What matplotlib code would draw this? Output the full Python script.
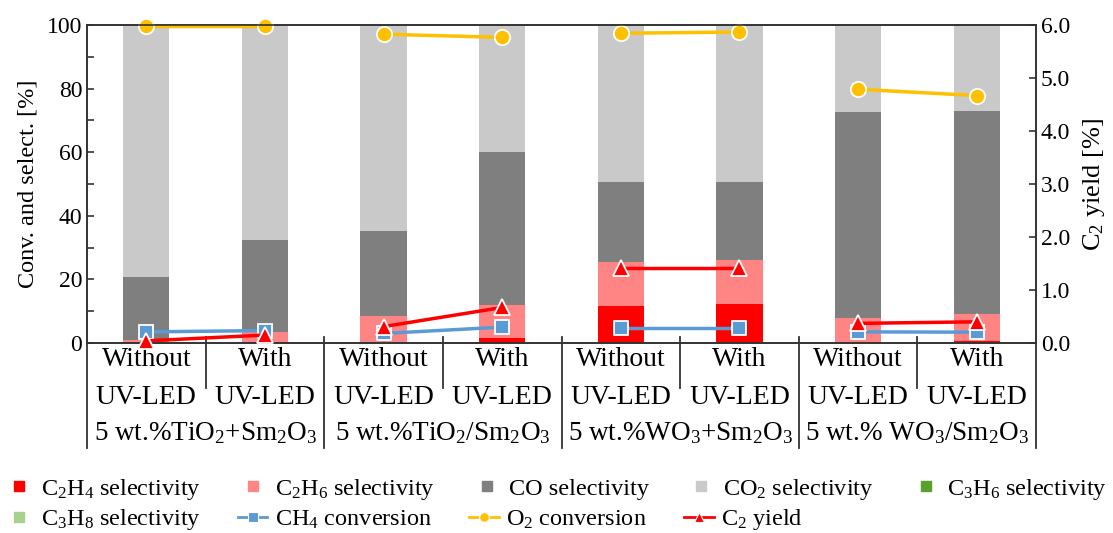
import matplotlib
matplotlib.use("Agg")
import matplotlib.pyplot as plt
from matplotlib.lines import Line2D
from matplotlib.ticker import FormatStrFormatter
import numpy as np

plt.rcParams['font.family'] = 'Liberation Serif'
plt.rcParams['mathtext.fontset'] = 'custom'
plt.rcParams['mathtext.rm'] = 'Liberation Serif'
plt.rcParams['mathtext.it'] = 'Liberation Serif:italic'
plt.rcParams['mathtext.bf'] = 'Liberation Serif:bold'

# --- data ---
led_state = ["Without", "With"] * 4
catalysts = [r"5 wt.%TiO$_2$+Sm$_2$O$_3$", r"5 wt.%TiO$_2$/Sm$_2$O$_3$",
             r"5 wt.%WO$_3$+Sm$_2$O$_3$", r"5 wt.% WO$_3$/Sm$_2$O$_3$"]

c2h4_sel = [0.0, 0.0, 0.0, 1.7, 11.6, 12.3, 0.0, 0.7]
c2h6_sel = [1.0, 3.5, 8.6, 10.2, 14.0, 13.8, 8.0, 8.4]
c3h6_sel = [0.0] * 8
c3h8_sel = [0.0] * 8
co_sel = [19.9, 28.9, 26.7, 48.3, 24.9, 24.4, 64.5, 64.0]
co2_sel = [79.1, 67.6, 64.7, 39.8, 49.5, 49.5, 27.5, 26.9]

ch4_conv = [3.5, 3.9, 3.0, 5.0, 4.8, 4.8, 3.5, 3.4]
o2_conv = [99.8, 99.8, 97.1, 96.1, 97.4, 97.8, 79.8, 77.8]
c2_yield = [0.04, 0.15, 0.31, 0.67, 1.42, 1.42, 0.37, 0.40]

RED = '#FF0000'
PINK = '#FF8585'
DGRAY = '#7F7F7F'
LGRAY = '#C9C9C9'
GREEN = '#5AA02C'
LGREEN = '#A9D18E'
BLUE = '#5B9BD5'
GOLD = '#FFC000'

fig = plt.figure(figsize=(11.13, 5.33), dpi=100)
ax = fig.add_axes([87 / 1113, 1 - 343 / 533, (1036 - 87) / 1113, 318 / 533])

x = np.arange(len(led_state))
stacks = [(c2h4_sel, RED), (c2h6_sel, PINK), (c3h6_sel, GREEN),
          (c3h8_sel, LGREEN), (co_sel, DGRAY), (co2_sel, LGRAY)]
bottom = np.zeros(len(x))
for vals, col in stacks:
    ax.bar(x, vals, 0.39, bottom=bottom, color=col, zorder=1)
    bottom += np.array(vals)

ax.set_xlim(-0.5, 7.5)
ax.set_ylim(0, 100)
ax.set_xticks([])
ax.set_yticks(range(0, 101, 20))
ax.set_yticks(range(10, 100, 20), minor=True)
ax.tick_params(axis='y', which='both', direction='in', length=5, width=1.2,
               labelsize=17, colors='#333333', labelcolor='black')
ax.set_ylabel("Conv. and select. [%]", fontsize=17.5, labelpad=6)

ax2 = ax.twinx()
ax2.set_ylim(0, 6)
ax2.set_yticks(np.arange(0, 6.01, 1.0))
ax2.yaxis.set_major_formatter(FormatStrFormatter('%.1f'))
ax2.tick_params(axis='y', direction='in', length=5, width=1.2,
                labelsize=17, colors='#333333', labelcolor='black')
ax2.set_ylabel(r"C$_2$ yield [%]", fontsize=19, labelpad=8)

for a in (ax, ax2):
    for sp in a.spines.values():
        sp.set_color('#333333')
        sp.set_linewidth(1.2)

# conversion and yield lines, one pair per catalyst
for g in range(4):
    s = slice(2 * g, 2 * g + 2)
    ax.plot(x[s], ch4_conv[s], color=BLUE, lw=2.5, marker='s', ms=10,
            mec='white', mew=1.3, clip_on=False, zorder=3)
    ax.plot(x[s], o2_conv[s], color=GOLD, lw=2.5, marker='o', ms=11,
            mec='white', mew=1.3, clip_on=False, zorder=3)
    ax2.plot(x[s], c2_yield[s], color=RED, lw=2.5, marker='^', ms=11,
             mec='white', mew=1.3, clip_on=False, zorder=4)

# category table under the axis
tr = ax.get_xaxis_transform()
line_kw = dict(color='#333333', lw=1.3, transform=tr, clip_on=False)
for xb in (-0.5, 7.5):
    ax.plot([xb, xb], [0, -0.33], **line_kw)
for xb in (1.5, 3.5, 5.5):
    ax.plot([xb, xb], [0.02, -0.33], **line_kw)
for xb in (0.5, 2.5, 4.5, 6.5):
    ax.plot([xb, xb], [0.02, -0.14], **line_kw)

for xi, state in zip(x, led_state):
    ax.text(xi, -0.053, state, transform=tr, ha='center', va='center', fontsize=20)
    ax.text(xi, -0.170, "UV-LED", transform=tr, ha='center', va='center', fontsize=20)
for g, cat in enumerate(catalysts):
    ax.text(2 * g + 0.5, -0.283, cat, transform=tr, ha='center', va='center', fontsize=19.5)

# legend, one row per fig.legend call
def sq(c):
    return Line2D([], [], ls='none', marker='s', ms=7, color=c)

def ln(c, m):
    return Line2D([], [], color=c, lw=2, marker=m, ms=7, mec='white', mew=0.8)

row1 = [(sq(RED), r"C$_2$H$_4$ selectivity"),
        (sq(PINK), r"C$_2$H$_6$ selectivity"),
        (sq(DGRAY), "CO selectivity"),
        (sq(LGRAY), r"CO$_2$ selectivity"),
        (sq(GREEN), r"C$_3$H$_6$ selectivity")]
row2 = [(sq(LGREEN), r"C$_3$H$_8$ selectivity"),
        (ln(BLUE, 's'), r"CH$_4$ conversion"),
        (ln(GOLD, 'o'), r"O$_2$ conversion"),
        (ln(RED, '^'), r"C$_2$ yield")]

leg_kw = dict(loc='center left', frameon=False, fontsize=17.5, handlelength=1.2,
              handletextpad=0.3, columnspacing=1.55, borderaxespad=0.0,
              borderpad=0.0)
for row, yc in ((row1, 489), (row2, 520)):
    h, l = zip(*row)
    fig.legend(h, l, ncol=len(row), bbox_to_anchor=(0.004, 1 - yc / 533), **leg_kw)

fig.savefig("out.png", dpi=100)
